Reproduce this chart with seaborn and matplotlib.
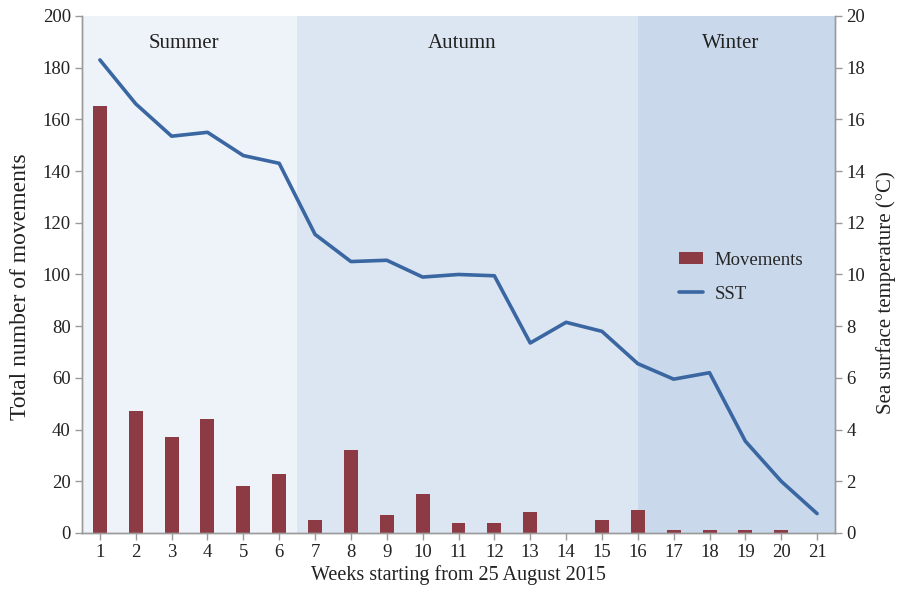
import matplotlib
matplotlib.use("Agg")
import matplotlib.pyplot as plt
import numpy as np
import pandas as pd
import seaborn as sns
from matplotlib.patches import Patch
from matplotlib.lines import Line2D

weeks = list(range(1, 22))
movements = [165, 47, 37, 44, 18, 23, 5, 32, 7, 15, 4, 4, 8, 0, 5, 9, 1, 1, 1, 1, 0]
sst = [18.3, 16.6, 15.35, 15.5, 14.6, 14.3, 11.55, 10.5, 10.55, 9.9, 10.0, 9.95,
       7.35, 8.15, 7.8, 6.55, 5.95, 6.2, 3.55, 2.0, 0.75]

seasons = ["Summer", "Autumn", "Winter"]
season_bounds = [(0.5, 6.5), (6.5, 16.0), (16.0, 21.5)]
season_colors = ["#EEF3FA", "#DCE6F2", "#C9D9EB"]

BAR_COLOR = "#8C3B45"
LINE_COLOR = "#3A66A2"
GREY = "#9A9A9A"
TXT = "#222222"

sns.set_theme(style="white")
plt.rcParams["font.family"] = ["Liberation Serif", "DejaVu Serif"]

df = pd.DataFrame({"week": weeks, "movements": movements, "sst": sst})

fig = plt.figure(figsize=(8.97, 5.92), dpi=100)
ax = fig.add_axes([0.0914, 0.0997, 0.8395, 0.8733])

for (lo, hi), c in zip(season_bounds, season_colors):
    ax.axvspan(lo, hi, color=c, zorder=0, lw=0)

sns.barplot(data=df, x="week", y="movements", native_scale=True, width=0.39,
            color=BAR_COLOR, saturation=1, linewidth=0, ax=ax, zorder=2)

ax2 = ax.twinx()
sns.lineplot(data=df, x="week", y="sst", color=LINE_COLOR, lw=2.6, ax=ax2)

ax.set_xlim(0.5, 21.5)
ax.set_ylim(0, 200)
ax2.set_ylim(0, 20)
ax.set_xticks(weeks)
ax.set_xticklabels([str(w) for w in weeks])
ax.set_yticks(range(0, 201, 20))
ax2.set_yticks(range(0, 21, 2))

for (lo, hi), name in zip(season_bounds, seasons):
    ax.text((lo + hi) / 2 - 0.15, 189.5, name, ha="center", va="center",
            fontsize=15, color=TXT)

ax.set_xlabel("Weeks starting from 25 August 2015", fontsize=14.5, color=TXT,
              labelpad=3)
ax.set_ylabel("Total number of movements", fontsize=17, color=TXT)
ax2.set_ylabel("Sea surface temperature (°C)", fontsize=15, color=TXT)
ax.yaxis.set_label_coords(-0.068, 0.476)
ax2.yaxis.set_label_coords(1.054, 0.464)

for a in (ax, ax2):
    for s in a.spines.values():
        s.set_color(GREY)
        s.set_linewidth(1)
    a.spines["top"].set_visible(False)
    a.tick_params(colors=GREY, labelcolor=TXT, labelsize=13.5,
                  length=5, width=1, direction="out", pad=3)
ax.tick_params(axis="both", which="both", left=True, bottom=True)
ax2.tick_params(axis="y", right=True)

handles = [Patch(facecolor=BAR_COLOR, edgecolor="none"),
           Line2D([0], [0], color=LINE_COLOR, lw=2.6)]
ax2.legend(handles, ["Movements", "SST"], loc="center left",
           bbox_to_anchor=(0.77, 0.495), frameon=False, fontsize=13.5,
           handlelength=1.3, handleheight=0.6, handletextpad=0.6,
           labelspacing=0.9)

fig.savefig("out.png", dpi=100)
